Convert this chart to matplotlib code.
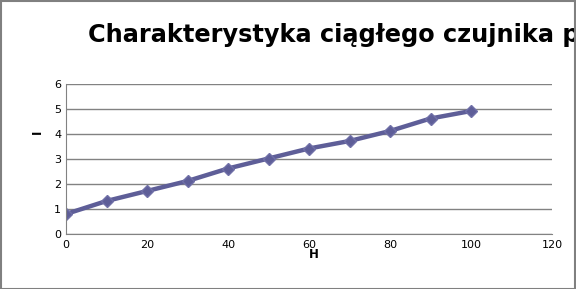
import matplotlib.pyplot as plt
from matplotlib.patches import Rectangle

H = [0, 10, 20, 30, 40, 50, 60, 70, 80, 90, 100]
I = [0.8, 1.32, 1.72, 2.12, 2.62, 3.02, 3.42, 3.72, 4.12, 4.62, 4.92]
x_ticks = [0, 20, 40, 60, 80, 100, 120]
y_ticks = [0, 1, 2, 3, 4, 5, 6]
title_shown = "Charakterystyka ciągłego czujnika "
title_cut = "p"

fig = plt.figure(figsize=(5.76, 2.89), dpi=100)
ax = fig.add_axes([66/576, 1-234/289, 486/576, 150/289])

ax.plot(H, I, color="#5e5e98", lw=3.2, marker="D", ms=6.5,
        markerfacecolor="#5e5e98", markeredgecolor="#7070a8", solid_capstyle="round")

ax.set_xlim(0, 120)
ax.set_ylim(0, 6)
ax.set_xticks(x_ticks)
ax.set_yticks(y_ticks)
ax.tick_params(length=0, labelsize=8)
ax.tick_params(axis="x", pad=4)
ax.tick_params(axis="y", pad=3.5)
ax.grid(axis="y", color="#828282", lw=1)
ax.set_axisbelow(True)
for s in ["top", "right"]:
    ax.spines[s].set_visible(False)
for s in ["left", "bottom"]:
    ax.spines[s].set_color("#828282")

fig.text(314/576, 1-255/289, "H", fontsize=8.5, fontweight="bold", ha="center", va="center")
fig.text(37/576, 1-132/289, "I", fontsize=8.5, fontweight="bold", ha="center", va="center", rotation=90)

# tytul: sirka textu do "p" ma byt cca 474 px (od x=88), "p" je v originale oriznute
r = fig.canvas.get_renderer()
t = fig.text(88/576, 1-42/289, title_shown + title_cut, fontsize=17,
             fontweight="bold", ha="left", va="baseline")
tmp = fig.text(0, 0, title_shown.rstrip(), fontsize=17, fontweight="bold")
w = tmp.get_window_extent(r).width
tmp.remove()
t.set_fontsize(17 * 467 / w)

fig.patches.append(Rectangle((0.5/576, 0.5/289), 1-1.5/576, 1-1.5/289, transform=fig.transFigure,
                             fill=False, edgecolor="#808080", lw=1.5, zorder=10))

fig.savefig("out.png", dpi=100)
